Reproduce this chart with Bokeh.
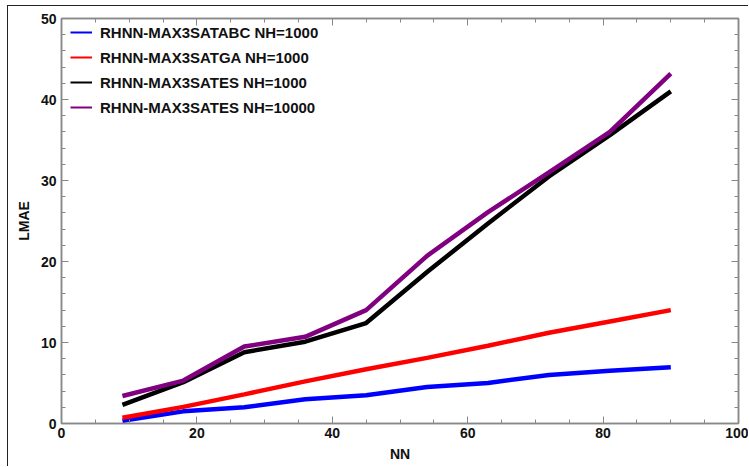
from bokeh.plotting import figure
from bokeh.models import LinearAxis, FixedTicker, Legend, LegendItem, Range1d
from bokeh.embed import file_html
from bokeh.resources import INLINE

nn = [9, 18, 27, 36, 45, 54, 63, 72, 81, 90]
abc_1000 = [0.35, 1.5, 2.0, 3.0, 3.5, 4.5, 5.0, 6.0, 6.5, 6.95]
ga_1000 = [0.7, 2.05, 3.6, 5.2, 6.7, 8.1, 9.6, 11.2, 12.6, 14.0]
es_1000 = [2.3, 5.1, 8.8, 10.1, 12.4, 18.7, 24.7, 30.5, 35.6, 41.0]
es_10000 = [3.4, 5.3, 9.5, 10.7, 14.0, 20.7, 26.1, 31.0, 36.0, 43.2]
labels = ["RHNN-MAX3SATABC NH=1000", "RHNN-MAX3SATGA NH=1000",
          "RHNN-MAX3SATES NH=1000", "RHNN-MAX3SATES NH=10000"]
colors = ["#0000ff", "#ff0000", "#000000", "#800080"]
series = [abc_1000, ga_1000, es_1000, es_10000]
x_ticks = [0, 20, 40, 60, 80, 100]
y_ticks = [0, 10, 20, 30, 40, 50]

FONT = "Liberation Sans"
NAN = float("nan")

p = figure(width=741, height=461, output_backend="svg", toolbar_location=None,
           x_range=Range1d(0, 100), y_range=Range1d(0, 50),
           x_axis_label="NN", y_axis_label="LMAE",
           min_border_left=53, min_border_right=11, min_border_top=12, min_border_bottom=44)
p.margin = (5, 0, 0, 7)
p.styles = {"border-left": "1px solid #222", "border-top": "1px solid #222"}
p.xgrid.visible = False
p.ygrid.visible = False
p.outline_line_color = "#888888"
p.outline_line_width = 1.5

items = []
for ys, c, lab in zip(series, colors, labels):
    p.line(nn, ys, line_color=c, line_width=4.5)
    # legend key with a thinner stroke (no visible data)
    key = p.line(x=[NAN], y=[NAN], line_color=c, line_width=2)
    items.append(LegendItem(label=lab, renderers=[key]))

xt = FixedTicker(ticks=x_ticks, minor_ticks=list(range(0, 101, 5)))
yt = FixedTicker(ticks=y_ticks, minor_ticks=list(range(0, 51, 2)))

def style(ax):
    ax.axis_line_color = "#888888"
    ax.axis_line_width = 1.5
    ax.major_tick_line_color = "#888888"
    ax.minor_tick_line_color = "#888888"
    ax.major_tick_in = 7
    ax.major_tick_out = 0
    ax.minor_tick_in = 4
    ax.minor_tick_out = 0
    ax.major_label_text_font = FONT
    ax.major_label_text_font_style = "bold"
    ax.major_label_text_font_size = "14px"
    ax.major_label_text_color = "#111111"
    ax.axis_label_text_font = FONT
    ax.axis_label_text_font_style = "bold"
    ax.axis_label_text_font_size = "14px"
    ax.axis_label_text_color = "#111111"

p.xaxis.ticker = xt
p.yaxis.ticker = yt
style(p.xaxis[0])
style(p.yaxis[0])
p.xaxis[0].major_label_standoff = 4
p.yaxis[0].major_label_standoff = 5
p.xaxis[0].axis_label_standoff = 5
p.yaxis[0].axis_label_standoff = 6

top = LinearAxis(ticker=FixedTicker(ticks=x_ticks, minor_ticks=list(range(0, 101, 5))))
right = LinearAxis(ticker=FixedTicker(ticks=y_ticks, minor_ticks=list(range(0, 51, 2))))
style(top)
style(right)
top.major_label_overrides = {t: "" for t in x_ticks}
right.major_label_overrides = {t: "" for t in y_ticks}
top.major_label_standoff = 0
right.major_label_standoff = 0
p.add_layout(top, "above")
p.add_layout(right, "right")

legend = Legend(items=items, location=(9, 306))
legend.border_line_color = None
legend.background_fill_alpha = 0
legend.label_text_font = FONT
legend.label_text_font_style = "bold"
legend.label_text_font_size = "15px"
legend.label_text_color = "#111111"
legend.glyph_width = 22
legend.glyph_height = 20
legend.label_height = 20
legend.spacing = 5
legend.label_standoff = 8
legend.margin = 0
legend.padding = 0
p.add_layout(legend)

open("out.html", "w").write(file_html(p, INLINE))
